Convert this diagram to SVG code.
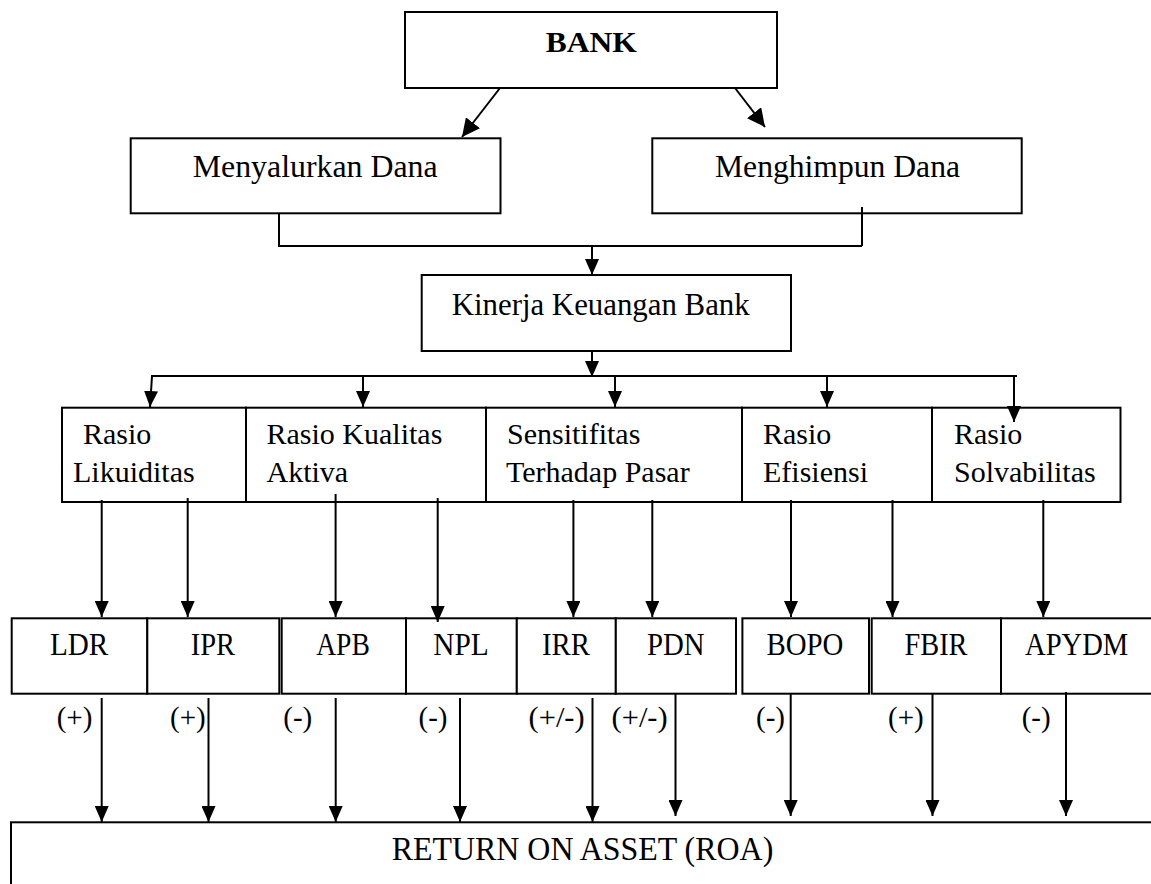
<svg xmlns="http://www.w3.org/2000/svg" width="1151" height="884" viewBox="0 0 1151 884">
  <style>
    .box { fill: #ffffff; stroke: #000000; stroke-width: 2; }
    .ln { fill: none; stroke: #000000; stroke-width: 2; }
    .t { font-family: "Liberation Serif", "Times New Roman", serif; fill: #000000; }
    .b { font-weight: bold; }
  </style>
  <defs>
    <marker id="ah" markerUnits="userSpaceOnUse" markerWidth="16" markerHeight="14" viewBox="0 0 16 14" refX="16" refY="7" orient="auto">
      <path d="M0,0 L16,7 L0,14 z" fill="#000000"/>
    </marker>
    <marker id="ahb" markerUnits="userSpaceOnUse" markerWidth="18" markerHeight="18" viewBox="0 0 18 18" refX="18" refY="9" orient="auto">
      <path d="M0,0 L18,9 L0,18 z" fill="#000000"/>
    </marker>
  </defs>
  <rect width="1151" height="884" fill="#ffffff"/>

  <g id="bank">
    <rect class="box" x="405" y="12" width="372" height="76"/>
    <text class="t b" x="545.7" y="51.7" font-size="30" textLength="91" lengthAdjust="spacingAndGlyphs">BANK</text>
  </g>
  <g id="menyalurkan">
    <rect class="box" x="130.7" y="138.3" width="369.8" height="75"/>
    <text class="t" x="192.7" y="176.7" font-size="32" textLength="245" lengthAdjust="spacingAndGlyphs">Menyalurkan Dana</text>
  </g>
  <g id="menghimpun">
    <rect class="box" x="652.3" y="138.3" width="369.4" height="75"/>
    <text class="t" x="715" y="176.7" font-size="32" textLength="245" lengthAdjust="spacingAndGlyphs">Menghimpun Dana</text>
  </g>
  <g id="kinerja">
    <rect class="box" x="421.7" y="275" width="369.3" height="76"/>
    <text class="t" x="451.7" y="315" font-size="32" textLength="298" lengthAdjust="spacingAndGlyphs">Kinerja Keuangan Bank</text>
  </g>

  <g id="likuiditas">
    <rect class="box" x="62" y="407.7" width="184" height="94.3"/>
    <text class="t" x="83" y="444" font-size="30">Rasio</text>
    <text class="t" x="73" y="482.3" font-size="30">Likuiditas</text>
  </g>
  <g id="kualitas-aktiva">
    <rect class="box" x="246" y="407.7" width="240" height="94.3"/>
    <text class="t" x="266.5" y="444" font-size="30">Rasio Kualitas</text>
    <text class="t" x="266.5" y="482.3" font-size="30">Aktiva</text>
  </g>
  <g id="sensitifitas">
    <rect class="box" x="486" y="407.7" width="256" height="94.3"/>
    <text class="t" x="507" y="444" font-size="30">Sensitifitas</text>
    <text class="t" x="506" y="482.3" font-size="30">Terhadap Pasar</text>
  </g>
  <g id="efisiensi">
    <rect class="box" x="742" y="407.7" width="190" height="94.3"/>
    <text class="t" x="763" y="444" font-size="30">Rasio</text>
    <text class="t" x="763" y="482.3" font-size="30">Efisiensi</text>
  </g>
  <g id="solvabilitas">
    <rect class="box" x="932" y="407.7" width="188.5" height="94.3"/>
    <text class="t" x="954" y="444" font-size="30">Rasio</text>
    <text class="t" x="954" y="482.3" font-size="30">Solvabilitas</text>
  </g>

  <g id="ldr">
    <rect class="box" x="11.7" y="618.3" width="135.6" height="75.4"/>
    <text class="t" x="50" y="655" font-size="32" textLength="58.3" lengthAdjust="spacingAndGlyphs">LDR</text>
  </g>
  <g id="ipr">
    <rect class="box" x="147.3" y="618.3" width="132" height="75.4"/>
    <text class="t" x="190.7" y="655" font-size="32" textLength="44.3" lengthAdjust="spacingAndGlyphs">IPR</text>
  </g>
  <g id="apb">
    <rect class="box" x="281.7" y="618.3" width="124.3" height="75.4"/>
    <text class="t" x="316.2" y="655" font-size="32" textLength="53.6" lengthAdjust="spacingAndGlyphs">APB</text>
  </g>
  <g id="npl">
    <rect class="box" x="406" y="618.3" width="110.8" height="75.4"/>
    <text class="t" x="433.3" y="655" font-size="32" textLength="55.5" lengthAdjust="spacingAndGlyphs">NPL</text>
  </g>
  <g id="irr">
    <rect class="box" x="516.8" y="618.3" width="99" height="75.4"/>
    <text class="t" x="542" y="655" font-size="32" textLength="48" lengthAdjust="spacingAndGlyphs">IRR</text>
  </g>
  <g id="pdn">
    <rect class="box" x="615.8" y="618.3" width="120.2" height="75.4"/>
    <text class="t" x="647" y="655" font-size="32" textLength="57.7" lengthAdjust="spacingAndGlyphs">PDN</text>
  </g>
  <g id="bopo">
    <rect class="box" x="742.4" y="618.3" width="126.6" height="75.4"/>
    <text class="t" x="766.5" y="655" font-size="32" textLength="76.9" lengthAdjust="spacingAndGlyphs">BOPO</text>
  </g>
  <g id="fbir">
    <rect class="box" x="871.7" y="618.3" width="129.3" height="75.4"/>
    <text class="t" x="904.5" y="655" font-size="32" textLength="63" lengthAdjust="spacingAndGlyphs">FBIR</text>
  </g>
  <g id="apydm">
    <rect class="box" x="1001" y="618.3" width="170" height="75.4"/>
    <text class="t" x="1025" y="655" font-size="32" textLength="103.3" lengthAdjust="spacingAndGlyphs">APYDM</text>
  </g>

  <g id="labels">
    <text class="t" x="56.7" y="727" font-size="29">(+)</text>
    <text class="t" x="170" y="727" font-size="29">(+)</text>
    <text class="t" x="283.3" y="727" font-size="29">(-)</text>
    <text class="t" x="418.5" y="727" font-size="29">(-)</text>
    <text class="t" x="528.6" y="727" font-size="29" textLength="56" lengthAdjust="spacingAndGlyphs">(+/-)</text>
    <text class="t" x="611.6" y="727" font-size="29" textLength="56" lengthAdjust="spacingAndGlyphs">(+/-)</text>
    <text class="t" x="756" y="727" font-size="29">(-)</text>
    <text class="t" x="888" y="727" font-size="29">(+)</text>
    <text class="t" x="1021.7" y="727" font-size="29">(-)</text>
  </g>

  <g id="roa">
    <rect class="box" x="11" y="822.3" width="1160" height="100"/>
    <text class="t" x="391.7" y="860" font-size="33" textLength="381.6" lengthAdjust="spacingAndGlyphs">RETURN ON ASSET (ROA)</text>
  </g>

  <g id="connectors">
    <line class="ln" x1="500" y1="88" x2="462" y2="137" marker-end="url(#ahb)"/>
    <line class="ln" x1="735" y1="88" x2="765" y2="127" marker-end="url(#ahb)"/>
    <polyline class="ln" points="279,213 279,246 862,246"/>
    <line class="ln" x1="862" y1="207" x2="862" y2="246" stroke-width="1.5"/>
    <line class="ln" x1="592" y1="246" x2="592" y2="275" marker-end="url(#ah)"/>
    <line class="ln" x1="592" y1="351" x2="592" y2="377" marker-end="url(#ah)"/>
    <line class="ln" x1="151" y1="376" x2="1017" y2="376"/>
    <line class="ln" x1="152" y1="376" x2="150" y2="407" marker-end="url(#ah)"/>
    <line class="ln" x1="363" y1="376" x2="363" y2="407" marker-end="url(#ah)"/>
    <line class="ln" x1="615" y1="376" x2="615" y2="407" marker-end="url(#ah)"/>
    <line class="ln" x1="827" y1="376" x2="827" y2="407" marker-end="url(#ah)"/>
    <line class="ln" x1="1014" y1="376" x2="1014" y2="422" marker-end="url(#ah)"/>
    <line class="ln" x1="101.7" y1="500" x2="101.7" y2="617" marker-end="url(#ah)"/>
    <line class="ln" x1="187.7" y1="498" x2="187.7" y2="617" marker-end="url(#ah)"/>
    <line class="ln" x1="335.6" y1="494" x2="335.6" y2="617" marker-end="url(#ah)"/>
    <line class="ln" x1="437.7" y1="498" x2="437.7" y2="622" marker-end="url(#ah)"/>
    <line class="ln" x1="573.4" y1="500" x2="573.4" y2="617" marker-end="url(#ah)"/>
    <line class="ln" x1="652.3" y1="500" x2="652.3" y2="617" marker-end="url(#ah)"/>
    <line class="ln" x1="791" y1="500" x2="791" y2="617" marker-end="url(#ah)"/>
    <line class="ln" x1="892.5" y1="500" x2="892.5" y2="617" marker-end="url(#ah)"/>
    <line class="ln" x1="1043.3" y1="500" x2="1043.3" y2="617" marker-end="url(#ah)"/>
    <line class="ln" x1="101.7" y1="698" x2="101.7" y2="822" marker-end="url(#ah)"/>
    <line class="ln" x1="208.5" y1="698" x2="208.5" y2="822" marker-end="url(#ah)"/>
    <line class="ln" x1="335.7" y1="698" x2="335.7" y2="822" marker-end="url(#ah)"/>
    <line class="ln" x1="460" y1="698" x2="460" y2="822" marker-end="url(#ah)"/>
    <line class="ln" x1="592.5" y1="698" x2="592.5" y2="822" marker-end="url(#ah)"/>
    <line class="ln" x1="675.5" y1="694" x2="675.5" y2="816" marker-end="url(#ah)"/>
    <line class="ln" x1="790.7" y1="694" x2="790.7" y2="816" marker-end="url(#ah)"/>
    <line class="ln" x1="932.5" y1="694" x2="932.5" y2="816" marker-end="url(#ah)"/>
    <line class="ln" x1="1066" y1="692" x2="1066" y2="816" marker-end="url(#ah)"/>
  </g>
</svg>
